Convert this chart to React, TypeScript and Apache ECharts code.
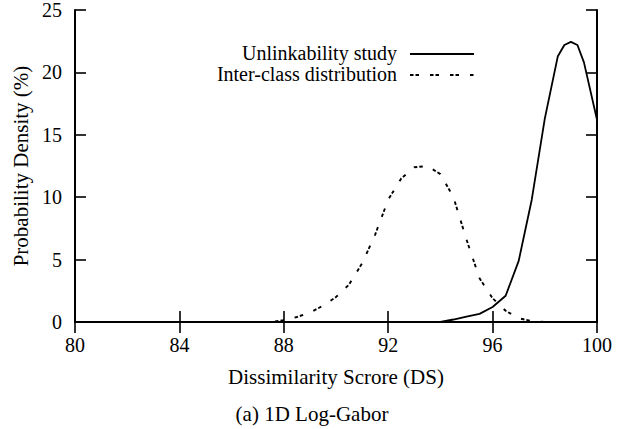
import React, { useEffect, useRef } from "react";
import * as echarts from "echarts";

const xTicks = [80, 84, 88, 92, 96, 100];
const yTicks = [0, 5, 10, 15, 20, 25];

const unlinkX = [80, 94, 94.5, 95, 95.5, 96, 96.5, 97, 97.5, 98, 98.5, 98.75, 99, 99.25, 99.5, 100];
const unlinkY = [0, 0, 0.2, 0.43, 0.65, 1.2, 2.1, 4.9, 9.8, 16.3, 21.3, 22.2, 22.45, 22.2, 20.8, 16.2];

const interX = [80, 87.5, 88, 88.5, 89, 89.5, 90, 90.5, 91, 91.5, 92, 92.5, 93, 93.5, 94, 94.5, 95, 95.5, 96, 96.5, 97, 97.5, 98, 100];
const interY = [0, 0, 0.15, 0.4, 0.75, 1.3, 2.0, 3.0, 4.7, 7.0, 9.8, 11.5, 12.4, 12.5, 11.85, 10.0, 6.6, 3.5, 1.9, 0.9, 0.3, 0.08, 0, 0];

const seriesNames = ["Unlinkability study", "Inter-class distribution"];
const xName = "Dissimilarity Scrore (DS)";
const yName = "Probability Density (%)";
const caption = "(a) 1D Log-Gabor";

const FONT = "'Liberation Serif', 'Times New Roman', serif";
const DASH = [3.5, 2, 3.5, 11];

export default function App() {
  const ref = useRef<HTMLDivElement>(null);
  useEffect(() => {
    if (!ref.current) return;
    const chart = echarts.init(ref.current, undefined, { renderer: "svg" });
    const axisCommon = {
      type: "value" as const,
      axisLine: { show: true, lineStyle: { color: "#000", width: 2 } },
      axisTick: { show: true, inside: true, length: 11, lineStyle: { color: "#000", width: 1.6 } },
      splitLine: { show: false },
    };
    const tickStyle = { fontFamily: FONT, fontSize: 20, color: "#000" };
    const nameStyle = { fontFamily: FONT, fontSize: 21, color: "#000" };
    chart.setOption({
      animation: false,
      backgroundColor: "#fff",
      grid: { left: 75, right: 42, top: 10, bottom: 107, containLabel: false },
      xAxis: [
        {
          ...axisCommon,
          position: "bottom",
          min: xTicks[0],
          max: xTicks[xTicks.length - 1],
          interval: 4,
          axisLabel: { ...tickStyle, margin: 13 },
          name: xName,
          nameLocation: "middle",
          nameGap: 44,
          nameTextStyle: nameStyle,
        },
        {
          ...axisCommon,
          position: "top",
          min: xTicks[0],
          max: xTicks[xTicks.length - 1],
          interval: 4,
          axisLabel: { show: false },
        },
      ],
      yAxis: [
        {
          ...axisCommon,
          position: "left",
          min: yTicks[0],
          max: yTicks[yTicks.length - 1],
          interval: 5,
          axisLabel: { ...tickStyle, margin: 13 },
          name: yName,
          nameLocation: "middle",
          nameGap: 36,
          nameTextStyle: nameStyle,
        },
        {
          ...axisCommon,
          position: "right",
          min: yTicks[0],
          max: yTicks[yTicks.length - 1],
          interval: 5,
          axisLabel: { show: false },
        },
      ],
      series: [
        {
          name: seriesNames[0],
          type: "line",
          xAxisIndex: 0,
          yAxisIndex: 0,
          data: unlinkX.map((x, i) => [x, unlinkY[i]]),
          showSymbol: false,
          symbol: "none",
          lineStyle: { color: "#000", width: 1.8 },
          itemStyle: { color: "#000" },
          z: 3,
        },
        {
          name: seriesNames[1],
          type: "line",
          xAxisIndex: 0,
          yAxisIndex: 0,
          data: interX.map((x, i) => [x, interY[i]]),
          showSymbol: false,
          symbol: "none",
          lineStyle: { color: "#000", width: 1.9, type: DASH },
          itemStyle: { color: "#000" },
          z: 2,
        },
      ],
      graphic: [
        {
          type: "text",
          x: 397,
          y: 53,
          style: { text: seriesNames[0], font: `20px ${FONT}`, fill: "#000", align: "right", verticalAlign: "middle" },
        },
        {
          type: "line",
          shape: { x1: 410, y1: 54, x2: 474, y2: 54 },
          style: { stroke: "#000", lineWidth: 1.8 },
        },
        {
          type: "text",
          x: 397,
          y: 74,
          style: { text: seriesNames[1], font: `20px ${FONT}`, fill: "#000", align: "right", verticalAlign: "middle" },
        },
        {
          type: "line",
          shape: { x1: 410, y1: 75, x2: 474, y2: 75 },
          style: { stroke: "#000", lineWidth: 1.9, lineDash: DASH },
        },
        {
          type: "text",
          x: 312,
          y: 414,
          style: { text: caption, font: `21px ${FONT}`, fill: "#000", align: "center", verticalAlign: "middle" },
        },
      ],
    });
    return () => chart.dispose();
  }, []);
  return <div ref={ref} style={{ position: "absolute", left: 0, top: 0, width: 639, height: 429 }} />;
}
